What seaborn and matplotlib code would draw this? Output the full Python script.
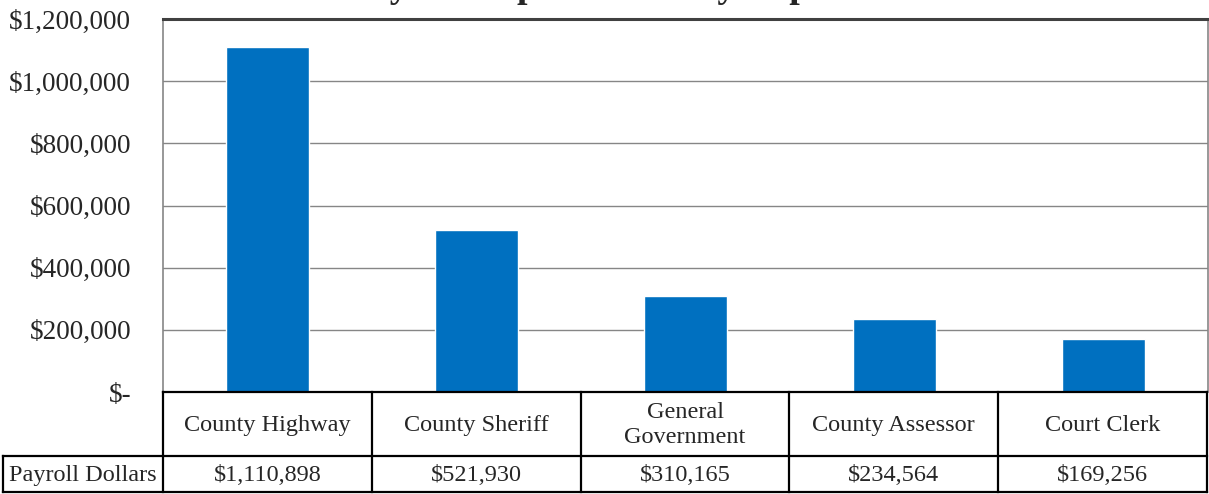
import matplotlib
matplotlib.use("Agg")
import matplotlib.pyplot as plt
import seaborn as sns
import pandas as pd
from matplotlib.ticker import FuncFormatter

# dados da tabela
departments = ["County Highway", "County Sheriff", "General\nGovernment",
               "County Assessor", "Court Clerk"]
payroll = [1110898, 521930, 310165, 234564, 169256]
row_label = "Payroll Dollars"
title = "Payroll Expenditures by Department"
y_ticks = [0, 200000, 400000, 600000, 800000, 1000000, 1200000]


def money(v, pos=None):
    if v == 0:
        return "$-"
    return "${:,.0f}".format(v)


def main():
    sns.set_style("white")
    plt.rcParams['font.family'] = ['Liberation Serif', 'DejaVu Serif']

    df = pd.DataFrame({"Department": departments, "Payroll": payroll})

    W, H = 1209, 494
    fig = plt.figure(figsize=(W / 100, H / 100), dpi=100)
    left, right, top, bottom = 163, 1208, 19, 392
    ax = fig.add_axes([left / W, 1 - bottom / H, (right - left) / W, (bottom - top) / H])

    sns.barplot(data=df, x="Department", y="Payroll", color="#0070C0",
                width=0.4, saturation=1, ax=ax, zorder=3)

    ax.set_ylim(0, 1200000)
    ax.set_xlim(-0.5, len(departments) - 0.5)
    ax.set_yticks(y_ticks)
    ax.yaxis.set_major_formatter(FuncFormatter(money))
    ax.tick_params(axis='y', labelsize=19.5, length=0, pad=23)
    ax.set_xticks([])
    ax.set_xlabel("")
    ax.set_ylabel("")
    ax.yaxis.grid(True, color="#868686", linewidth=1, zorder=0)

    for s in ["left", "right"]:
        ax.spines[s].set_color("#868686")
        ax.spines[s].set_linewidth(1.2)
    ax.spines["top"].set_color("#404040")
    ax.spines["top"].set_linewidth(2.2)
    ax.spines["bottom"].set_visible(False)

    # tabela embaixo do gráfico, desenhada em coordenadas de pixel
    tb = fig.add_axes([0, 0, 1, 1], zorder=5)
    tb.set_xlim(0, W)
    tb.set_ylim(H, 0)
    tb.axis("off")
    tb.patch.set_alpha(0)

    n = len(departments)
    col_w = (1207 - left) / n
    edges = [left + i * col_w for i in range(n + 1)]
    r0, r1, r2 = bottom, 456, 492
    lab_x0 = 3
    kw = dict(color="black", linewidth=1.6, solid_capstyle="projecting")

    tb.plot([left, edges[-1]], [r0, r0], **kw)
    tb.plot([lab_x0, edges[-1]], [r1, r1], **kw)
    tb.plot([lab_x0, edges[-1]], [r2, r2], **kw)
    for x in edges:
        tb.plot([x, x], [r0, r2], **kw)
    tb.plot([lab_x0, lab_x0], [r1, r2], **kw)

    for i, (dep, val) in enumerate(zip(departments, payroll)):
        cx = (edges[i] + edges[i + 1]) / 2
        tb.text(cx, (r0 + r1) / 2 + 1, dep, ha="center", va="center",
                fontsize=17.5, linespacing=1.3)
        tb.text(cx, (r1 + r2) / 2 + 1, money(val), ha="center", va="center",
                fontsize=17.5)
    tb.text((lab_x0 + left) / 2, (r1 + r2) / 2 + 1, row_label, ha="center",
            va="center", fontsize=17.5)

    fig.text(0.532, 1 + 3 / H, title, ha='center', va='baseline',
             fontsize=27, fontweight='bold')

    fig.savefig("out.png", dpi=100)


if __name__ == "__main__":
    main()
